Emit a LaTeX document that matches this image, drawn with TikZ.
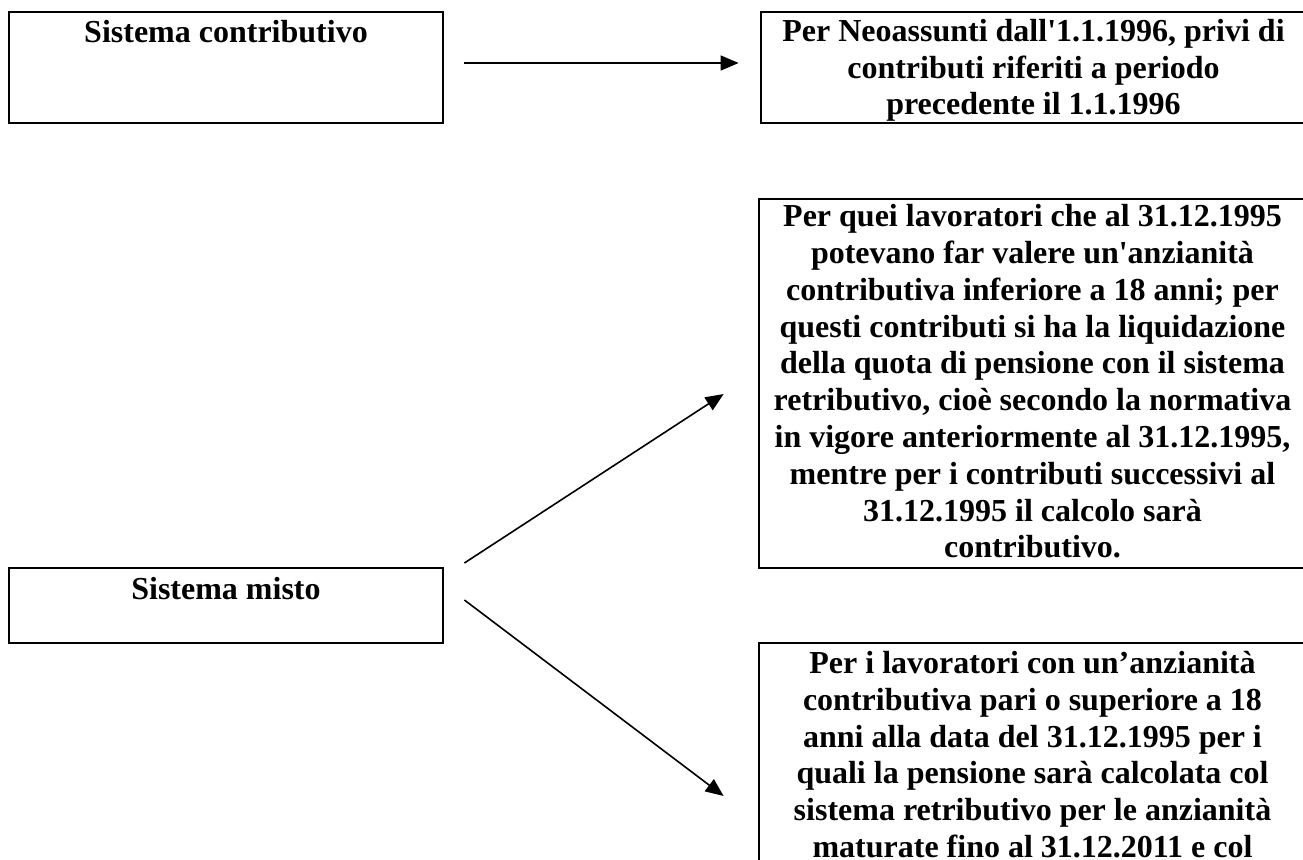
\documentclass[tikz,border=0pt]{standalone}
\usepackage{fontspec}
\setmainfont{Liberation Serif}
\usetikzlibrary{arrows.meta}
\tikzset{
  box/.style={draw,line width=1.4pt,inner sep=0pt},
  boxtext/.style={font=\bfseries\fontsize{16}{18.4}\selectfont,
    align=center,anchor=north,inner sep=0pt},
  arr/.style={-{Triangle[length=9pt,width=7.5pt]},line width=0.8pt}
}
\begin{document}
\begin{tikzpicture}[x=0.5pt,y=-0.5pt]
      \clip (0,0) rectangle (1303,859);
      % left column
      \node[box,minimum width=217pt,minimum height=55.5pt] (contr)
        at (226,67.5) {};
      \node[box,minimum width=217pt,minimum height=37.5pt] (misto)
        at (226,605.5) {};
      % right column, cut at the page edge
      \node[box,minimum width=272.5pt,minimum height=55.5pt] (neo)
        at (1033.5,67.5) {};
      \node[box,minimum width=273.5pt,minimum height=184.5pt] (quei)
        at (1032.5,383.5) {};
      \node[box,minimum width=273.5pt,minimum height=138.5pt] (ultra)
        at (1032.5,781.5) {};
      % texts
      \node[boxtext] (contrT) at ([yshift=-4.5pt]contr.north)
        {Sistema contributivo};
      \node[boxtext] (mistoT) at ([yshift=-5.2pt]misto.north)
        {Sistema misto};
      \node[boxtext] (neoT) at ([yshift=-4pt]neo.north)
        {Per Neoassunti dall\textquotesingle 1.1.1996, privi di\\
         contributi riferiti a periodo\\
         precedente il 1.1.1996};
      \node[boxtext] (queiT) at ([yshift=-3.2pt]quei.north)
        {Per quei lavoratori che al 31.12.1995\\
         potevano far valere un\textquotesingle anzianità\\
         contributiva inferiore a 18 anni; per\\
         questi contributi si ha la liquidazione\\
         della quota di pensione con il sistema\\
         retributivo, cioè secondo la normativa\\
         in vigore anteriormente al 31.12.1995,\\
         mentre per i contributi successivi al\\
         31.12.1995 il calcolo sarà\\
         contributivo.};
      \node[boxtext] (ultraT) at ([yshift=-4.6pt]ultra.north)
        {Per i lavoratori con un’anzianità\\
         contributiva pari o superiore a 18\\
         anni alla data del 31.12.1995 per i\\
         quali la pensione sarà calcolata col\\
         sistema retributivo per le anzianità\\
         maturate fino al 31.12.2011 e col};
      % arrows
      \draw[arr] ([shift={(20,-4.5)}]contr.east)
        -- ([shift={(-21,-4.5)}]neo.west);
      \draw[arr] ([shift={(20,-42.5)}]misto.east)
        -- ([shift={(-34,10.5)}]quei.west);
      \draw[arr] ([shift={(20,-5.5)}]misto.east)
        -- ([shift={(-34,14.5)}]ultra.west);
\end{tikzpicture}
\end{document}
